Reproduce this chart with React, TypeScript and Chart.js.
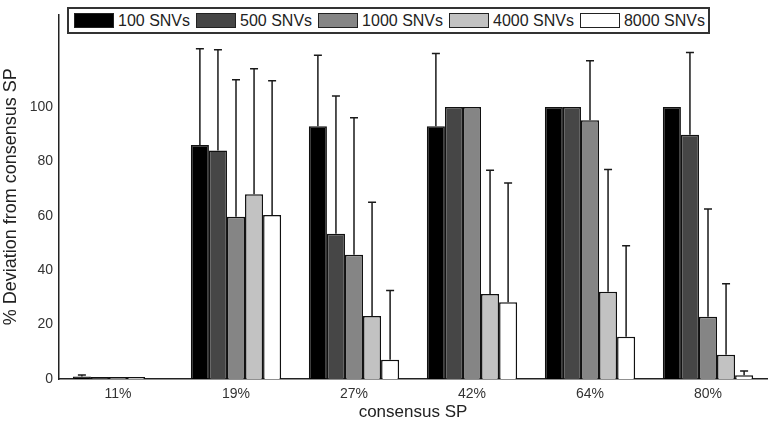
import { useEffect, useRef } from 'react';
import { Chart, registerables } from 'chart.js';

Chart.register(...registerables);

const categories = ['11%', '19%', '27%', '42%', '64%', '80%'];
const seriesLabels = ['100 SNVs', '500 SNVs', '1000 SNVs', '4000 SNVs', '8000 SNVs'];
const seriesColors = ['#000000', '#464646', '#858585', '#c2c2c2', '#ffffff'];

// mean % deviation per series
const snv100 = [0.9, 86, 92.9, 92.9, 100, 100];
const snv500 = [0.7, 84, 53.4, 100, 100, 89.8];
const snv1000 = [0.7, 59.6, 45.7, 100, 95.1, 22.9];
const snv4000 = [0.7, 67.9, 23.2, 31.2, 32.1, 8.9];
const snv8000 = [0, 60.3, 7.1, 28.2, 15.5, 1.4];

// upper error (SD) per series
const err100 = [0.6, 35.4, 26.1, 26.7, 0, 0];
const err500 = [0, 37, 50.6, 0, 0, 30.2];
const err1000 = [0, 50.4, 50.3, 0, 21.9, 39.6];
const err4000 = [0, 46.1, 41.8, 45.5, 44.9, 26.1];
const err8000 = [0, 49.3, 25.4, 43.8, 33.5, 1.5];

const seriesValues = [snv100, snv500, snv1000, snv4000, snv8000];
const seriesErrors = [err100, err500, err1000, err4000, err8000];

const yTicks = [0, 20, 40, 60, 80, 100];

const errorBars = {
  id: 'errorBars',
  afterDatasetsDraw(chart: any) {
    const ctx = chart.ctx;
    const y = chart.scales.y;
    ctx.save();
    ctx.strokeStyle = '#1a1a1a';
    ctx.lineWidth = 1.5;
    chart.data.datasets.forEach((ds: any, i: number) => {
      const meta = chart.getDatasetMeta(i);
      meta.data.forEach((el: any, j: number) => {
        const e = ds.errors[j];
        if (!e) return;
        const top = y.getPixelForValue(ds.data[j] + e);
        ctx.beginPath();
        ctx.moveTo(el.x, el.y);
        ctx.lineTo(el.x, top);
        ctx.moveTo(el.x - 4, top);
        ctx.lineTo(el.x + 4, top);
        ctx.stroke();
      });
    });
    ctx.restore();
  },
};

export default function App() {
  const canvasRef = useRef<HTMLCanvasElement>(null);
  const chartRef = useRef<Chart | null>(null);

  useEffect(() => {
    document.body.style.margin = '0';
    if (!canvasRef.current) return;
    if (chartRef.current) chartRef.current.destroy();

    chartRef.current = new Chart(canvasRef.current, {
      type: 'bar',
      data: {
        labels: categories,
        datasets: seriesLabels.map((label, i) => ({
          label,
          data: seriesValues[i],
          errors: seriesErrors[i],
          backgroundColor: seriesColors[i],
          borderColor: '#111111',
          borderWidth: 1.5,
          borderSkipped: 'bottom',
          categoryPercentage: 0.765,
          barPercentage: 1.0,
        })) as any,
      },
      options: {
        animation: false,
        responsive: false,
        layout: { padding: { top: 5, right: 5, left: 0, bottom: 0 } },
        plugins: {
          legend: { display: false },
          tooltip: { enabled: false },
        },
        scales: {
          x: {
            grid: { display: false, drawTicks: false },
            border: { color: '#222', width: 1.5 },
            ticks: {
              color: '#333',
              font: { family: 'Liberation Sans', size: 14 },
              padding: 7,
            },
            title: {
              display: true,
              text: 'consensus SP',
              color: '#222',
              font: { family: 'Liberation Sans', size: 17 },
              padding: { top: 0, bottom: 0 },
            },
            afterFit: (s: any) => {
              s.height = 44;
            },
          },
          y: {
            min: 0,
            max: 134,
            afterBuildTicks: (s: any) => {
              s.ticks = yTicks.map((v) => ({ value: v }));
            },
            grid: { display: false, drawTicks: false },
            border: { color: '#222', width: 1.5 },
            ticks: {
              color: '#333',
              font: { family: 'Liberation Sans', size: 14 },
              padding: 6,
            },
            title: {
              display: true,
              text: '% Deviation from consensus SP',
              color: '#222',
              font: { family: 'Liberation Sans', size: 18 },
              padding: { top: 0, bottom: 4 },
            },
            afterFit: (s: any) => {
              s.width = 59;
            },
          },
        },
      },
      plugins: [errorBars],
    });

    return () => {
      if (chartRef.current) {
        chartRef.current.destroy();
        chartRef.current = null;
      }
    };
  }, []);

  return (
    <div style={{ position: 'relative', width: 772, height: 423, background: '#fff' }}>
      <canvas ref={canvasRef} width={772} height={423} style={{ display: 'block' }} />
      <div
        style={{
          position: 'absolute',
          left: 67,
          top: 7,
          width: 643,
          height: 27,
          boxSizing: 'border-box',
          border: '2px solid #333',
          background: '#fff',
          display: 'flex',
          alignItems: 'center',
          paddingLeft: 5,
          fontFamily: 'Liberation Sans',
          fontSize: 16,
          color: '#222',
        }}
      >
        {seriesLabels.map((label, i) => (
          <div key={label} style={{ display: 'flex', alignItems: 'center', marginRight: 6 }}>
            <span
              style={{
                display: 'inline-block',
                width: 40,
                height: 15,
                boxSizing: 'border-box',
                border: '1.5px solid #222',
                background: seriesColors[i],
                marginRight: 4,
              }}
            />
            <span style={{ whiteSpace: 'nowrap' }}>{label}</span>
          </div>
        ))}
      </div>
    </div>
  );
}
